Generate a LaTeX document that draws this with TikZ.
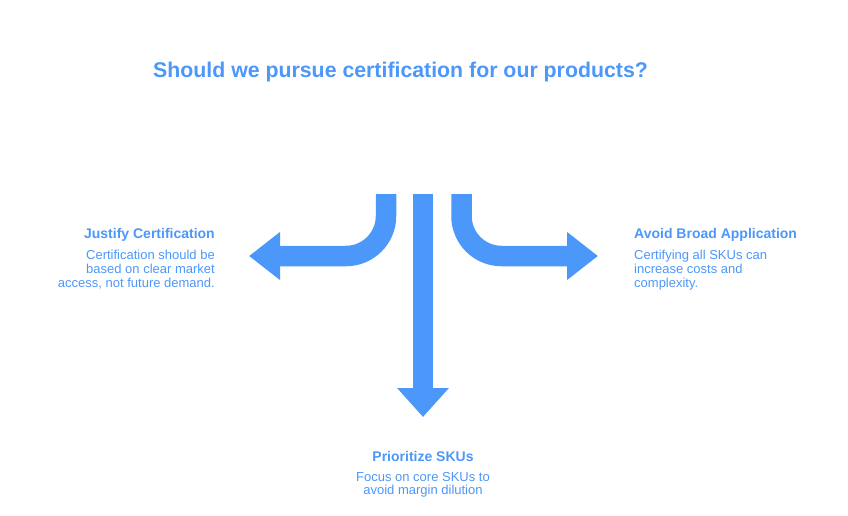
\documentclass[tikz,border=0pt]{standalone}
\usepackage{fontspec}
\setmainfont{Liberation Sans}
\usetikzlibrary{arrows.meta}
\definecolor{cblue}{HTML}{4C97FA}
\begin{document}
\begin{tikzpicture}[x=1pt,y=-1pt,
  band/.style={draw=cblue,line width=20.5pt,rounded corners=40pt},
  head/.style={-{Triangle[length=31pt,width=46pt]}},
  ttl/.style={text=cblue,font=\bfseries\fontsize{14}{16}\selectfont,inner sep=0pt},
  body/.style={text=cblue,font=\fontsize{13}{13.7}\selectfont,inner sep=0pt},
  maintitle/.style={text=cblue,font=\bfseries\fontsize{21.3}{25}\selectfont,inner sep=0pt}]
\useasboundingbox (0,0) rectangle (848,515);
\node[maintitle] (q) at (400.5,72) {Should we pursue certification for our products?};
% sources
\coordinate (sl) at (386,194);
\coordinate (sc) at (423,194);
\coordinate (sr) at (461.5,194);
\coordinate (tl) at (249,256);
\coordinate (tc) at (423,417);
\coordinate (tr) at (598,256);
\draw[band,head] (sl) |- (tl);
\draw[band,head] (sr) |- (tr);
\draw[band,-{Triangle[length=29pt,width=50pt]}] (sc) -- (tc);
% labels
\node[ttl,anchor=east] (lt) at (215,235) {Justify Certification};
\node[body,anchor=north east,align=right] (lb) at (215,250) {Certification should be\\based on clear market\\access, not future demand.};
\node[ttl,anchor=west] (rt) at (634,235) {Avoid Broad Application};
\node[body,anchor=north west,align=left] (rb) at (634,250) {Certifying all SKUs can\\increase costs and\\complexity.};
\node[ttl] (bt) at (423,456) {Prioritize SKUs};
\node[body,anchor=north,align=center] (bb) at (423,472) {Focus on core SKUs to\\avoid margin dilution};
\end{tikzpicture}
\end{document}
